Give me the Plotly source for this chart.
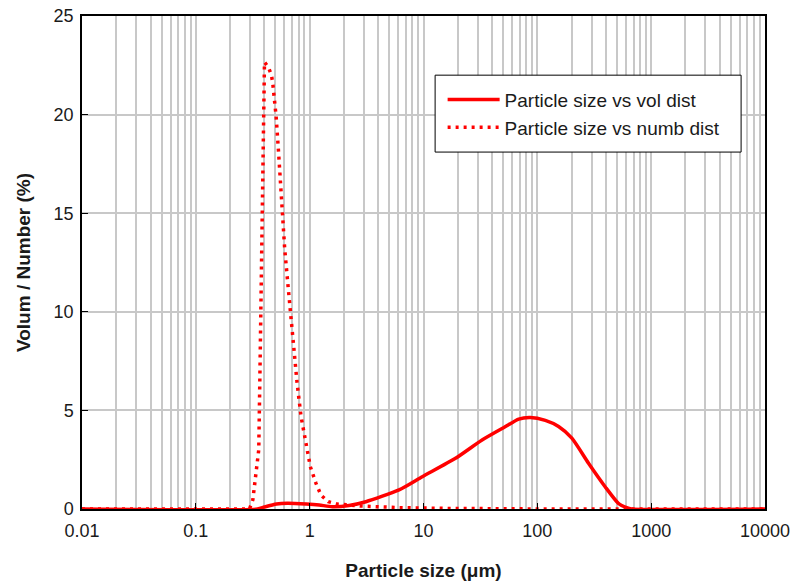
import plotly.graph_objects as go

# Volume distribution (solid)
vol_size = [0.01, 0.348, 0.40, 0.511, 0.637, 0.935, 1.215, 1.579, 2.22, 3.118, 6.10, 9.76,
            19.1, 32.7, 52.5, 68.6, 86.9, 117.5, 153.7, 201, 281.6, 394, 515, 609, 670, 10000]
vol_pct = [0, 0, 0.1, 0.25, 0.29, 0.25, 0.2, 0.12, 0.18, 0.37, 0.97, 1.64,
           2.57, 3.5, 4.18, 4.56, 4.64, 4.49, 4.18, 3.59, 2.32, 1.13, 0.29, 0.07, 0, 0]

# Number distribution (dotted)
num_size = [0.01, 0.296, 0.3166, 0.3296, 0.357, 0.3646, 0.3773, 0.387, 0.3952, 0.4009, 0.4345,
            0.4615, 0.4738, 0.5074, 0.5315, 0.5534, 0.5797, 0.6034, 0.6412, 0.6812, 0.7194,
            0.775, 0.840, 0.9407, 1.013, 1.137, 1.258, 1.457, 1.747, 2.82, 6.1, 16.6, 126, 10000]
num_pct = [0, 0, 0.46, 1.3, 3.0, 6.4, 11.5, 16.6, 20.8, 22.66, 22.4,
           22.0, 21.6, 19.9, 18.2, 16.6, 14.85, 13.2, 11.5, 9.77, 8.08,
           6.4, 4.69, 3.0, 2.15, 1.3, 0.7, 0.37, 0.25, 0.15, 0.07, 0.03, 0.0, 0]

x_tickvals = [0.01, 0.1, 1, 10, 100, 1000, 10000]
x_ticktext = ["0.01", "0.1", "1", "10", "100", "1000", "10000"]
y_tickvals = [0, 5, 10, 15, 20, 25]

RED = "#ff0000"
GRID = "#c8c8c8"
TXT = "#1a1a1a"
FONT = "Liberation Sans, Arial, sans-serif"

fig = go.Figure()
fig.add_trace(go.Scatter(x=vol_size, y=vol_pct, mode="lines", name="Particle size vs vol dist",
                         line=dict(color=RED, width=3.5, shape="spline", smoothing=0.6)))
fig.add_trace(go.Scatter(x=num_size, y=num_pct, mode="lines", name="Particle size vs numb dist",
                         line=dict(color=RED, width=3.5, dash="3px,5px")))

# legend frame
fig.add_shape(type="rect", xref="paper", yref="paper",
              x0=0.517, x1=0.965, y0=0.724, y1=0.880,
              line=dict(color="black", width=1), fillcolor="white", layer="above")

fig.update_layout(
    width=793, height=586,
    margin=dict(l=82, r=28, t=16, b=77),
    plot_bgcolor="white", paper_bgcolor="white",
    font=dict(family=FONT, size=18, color=TXT),
    showlegend=True,
    legend=dict(x=0.528, y=0.869, xanchor="left", yanchor="top",
                borderwidth=0, bgcolor="rgba(0,0,0,0)",
                font=dict(size=19, family=FONT, color=TXT),
                tracegroupgap=0, itemwidth=52),
    xaxis=dict(type="log", range=[-2, 4], tickvals=x_tickvals, ticktext=x_ticktext,
               automargin=False,
               showgrid=True, gridcolor=GRID, gridwidth=1.5,
               minor=dict(dtick="D1", showgrid=True, gridcolor=GRID, gridwidth=1.5, ticks=""),
               ticks="inside", ticklen=6, tickcolor="black", ticklabelstandoff=5,
               showline=True, linecolor="black", linewidth=1.5, mirror=True,
               zeroline=False,
               title=dict(text="<b>Particle size (μm)</b>", font=dict(size=19, family=FONT, color=TXT), standoff=23),
               tickfont=dict(size=18, family=FONT, color=TXT)),
    yaxis=dict(range=[0, 25], tickvals=y_tickvals,
               automargin=False,
               showgrid=True, gridcolor=GRID, gridwidth=1.5,
               ticks="inside", ticklen=6, tickcolor="black", ticklabelstandoff=3,
               showline=True, linecolor="black", linewidth=1.5, mirror=True,
               zeroline=False,
               title=dict(text="<b>Volum / Number (%)</b>", font=dict(size=19, family=FONT, color=TXT), standoff=18),
               tickfont=dict(size=18, family=FONT, color=TXT)),
)

fig.write_html("out.html")
